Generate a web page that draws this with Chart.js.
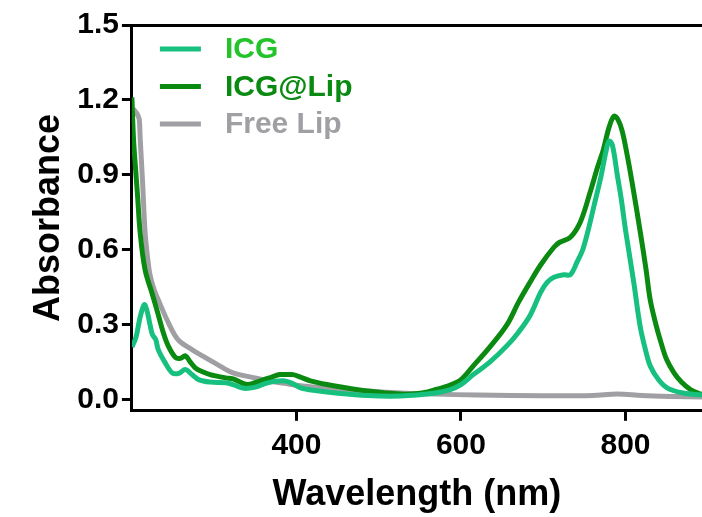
<!DOCTYPE html>
<html>
<head>
<meta charset="utf-8">
<script src="https://cdn.jsdelivr.net/npm/chart.js@4/dist/chart.umd.min.js"></script>
<style>
  html, body { margin: 0; padding: 0; background: #fff; }
  #wrap { width: 702px; height: 517px; }
</style>
</head>
<body>
<div id="wrap"><canvas id="spectra"></canvas></div>
<script>
// Absorbance spectra (wavelength in nm)
const icgWavelength = [200, 205, 210, 215, 218, 222, 225, 229, 232, 240, 249, 257, 265, 273, 281, 295, 314, 323, 336, 350, 365, 384, 395, 405, 425, 445, 486, 526, 567, 587, 600, 615, 635, 656, 670, 684, 697, 705, 713, 725, 733, 741, 748, 754, 762, 770, 776, 780, 784, 790, 795, 800, 810, 818, 825, 830, 840, 851, 870, 893];
const icgAbs = [0.21, 0.25, 0.33, 0.38, 0.36, 0.30, 0.26, 0.24, 0.20, 0.15, 0.107, 0.105, 0.12, 0.10, 0.08, 0.07, 0.067, 0.06, 0.045, 0.05, 0.067, 0.075, 0.065, 0.047, 0.035, 0.027, 0.016, 0.014, 0.025, 0.04, 0.06, 0.10, 0.15, 0.216, 0.27, 0.337, 0.43, 0.47, 0.49, 0.50, 0.50, 0.55, 0.60, 0.67, 0.78, 0.89, 0.99, 1.035, 1.02, 0.90, 0.80, 0.68, 0.47, 0.29, 0.19, 0.135, 0.08, 0.046, 0.026, 0.018];

const lipWavelength = [200, 202, 205, 207, 210, 216, 225, 232, 238, 244, 253, 259, 265, 271, 277, 283, 295, 314, 323, 340, 356, 370, 380, 390, 396, 405, 417, 445, 486, 526, 550, 567, 587, 600, 615, 635, 656, 670, 684, 697, 713, 720, 733, 745, 757, 766, 773, 780, 786, 791, 796, 802, 808, 818, 825, 830, 837, 843, 850, 859, 868, 879, 893];
const lipAbs = [1.21, 1.04, 0.90, 0.81, 0.67, 0.52, 0.42, 0.34, 0.27, 0.216, 0.168, 0.165, 0.175, 0.15, 0.127, 0.115, 0.10, 0.087, 0.083, 0.06, 0.075, 0.09, 0.10, 0.10, 0.10, 0.09, 0.075, 0.055, 0.034, 0.022, 0.025, 0.038, 0.058, 0.08, 0.135, 0.21, 0.30, 0.39, 0.47, 0.54, 0.61, 0.63, 0.65, 0.71, 0.83, 0.93, 1.00, 1.09, 1.135, 1.12, 1.075, 0.98, 0.87, 0.67, 0.52, 0.40, 0.30, 0.23, 0.16, 0.107, 0.07, 0.04, 0.02];

const freeWavelength = [200, 202, 205, 207, 209, 210, 213, 216, 219, 222, 227, 232, 244, 256, 273, 283, 304, 323, 345, 365, 385, 405, 445, 486, 526, 567, 620, 700, 760, 790, 820, 860, 893];
const freeAbs = [1.10, 1.16, 1.15, 1.14, 1.12, 1.05, 0.87, 0.67, 0.57, 0.50, 0.44, 0.40, 0.31, 0.24, 0.20, 0.18, 0.14, 0.107, 0.09, 0.075, 0.065, 0.055, 0.042, 0.034, 0.026, 0.022, 0.018, 0.015, 0.016, 0.022, 0.016, 0.012, 0.01];

const seriesNames = ['ICG', 'ICG@Lip', 'Free Lip'];
const lineColors = ['#17c07e', '#0b8a12', '#a0a0a4'];
const labelColors = ['#22c42a', '#0b8a12', '#a0a0a4'];

const xTicks = [400, 600, 800];
const yTicks = [0, 0.3, 0.6, 0.9, 1.2, 1.5];

function toPoints(xs, ys) {
  return xs.map((x, i) => ({ x: x, y: ys[i] }));
}

const FONT = 'Liberation Sans, Arial, sans-serif';

// legend drawn inside the plot, text coloured separately from the line
const insideLegend = {
  id: 'insideLegend',
  afterDraw(chart) {
    const ctx = chart.ctx;
    const area = chart.chartArea;
    ctx.save();
    ctx.font = 'bold 30px ' + FONT;
    ctx.textBaseline = 'middle';
    chart.data.datasets.forEach((ds, i) => {
      const y = area.top + 24 + i * 37.5;
      ctx.strokeStyle = ds.borderColor;
      ctx.lineWidth = 5;
      ctx.beginPath();
      ctx.moveTo(area.left + 28, y);
      ctx.lineTo(area.left + 69, y);
      ctx.stroke();
      ctx.fillStyle = labelColors[i];
      ctx.fillText(ds.label, area.left + 93, y + 1);
    });
    ctx.restore();
  }
};

const datasets = [
  { label: seriesNames[0], data: toPoints(icgWavelength, icgAbs), borderColor: lineColors[0] },
  { label: seriesNames[1], data: toPoints(lipWavelength, lipAbs), borderColor: lineColors[1] },
  { label: seriesNames[2], data: toPoints(freeWavelength, freeAbs), borderColor: lineColors[2] }
].map(d => Object.assign(d, { borderWidth: 5, pointRadius: 0, tension: 0.35, fill: false }));

new Chart(document.getElementById('spectra'), {
  type: 'line',
  data: { datasets: datasets },
  options: {
    responsive: true,
    maintainAspectRatio: false,
    animation: false,
    layout: { padding: { top: 25, left: 27, right: 0, bottom: 0 } },
    plugins: {
      legend: { display: false },
      tooltip: { enabled: false }
    },
    scales: {
      x: {
        type: 'linear',
        min: 200,
        max: 893,
        afterBuildTicks: s => { s.ticks = xTicks.map(v => ({ value: v })); },
        border: { display: true, color: '#000', width: 3 },
        grid: { drawOnChartArea: false, drawTicks: true, tickLength: 10, tickWidth: 3, tickColor: '#000' },
        ticks: { color: '#000', font: { family: FONT, size: 30, weight: 'bold' }, padding: 7, maxRotation: 0 },
        title: { display: true, text: 'Wavelength (nm)', color: '#000', font: { family: FONT, size: 36, weight: 'bold' }, padding: { top: 3, bottom: 0 } }
      },
      xTop: {
        type: 'linear',
        position: 'top',
        min: 200,
        max: 893,
        border: { display: true, color: '#000', width: 3 },
        grid: { drawOnChartArea: false, drawTicks: false },
        ticks: { display: false }
      },
      y: {
        min: -0.045,
        max: 1.5,
        afterBuildTicks: s => { s.ticks = yTicks.map(v => ({ value: v })); },
        border: { display: true, color: '#000', width: 3 },
        grid: { drawOnChartArea: false, drawTicks: true, tickLength: 10, tickWidth: 3, tickColor: '#000' },
        ticks: { color: '#000', font: { family: FONT, size: 30, weight: 'bold' }, padding: 3, callback: v => v.toFixed(1) },
        title: { display: true, text: 'Absorbance', color: '#000', font: { family: FONT, size: 36, weight: 'bold' }, padding: { top: 0, bottom: 4 } }
      }
    }
  },
  plugins: [insideLegend]
});
</script>
</body>
</html>
